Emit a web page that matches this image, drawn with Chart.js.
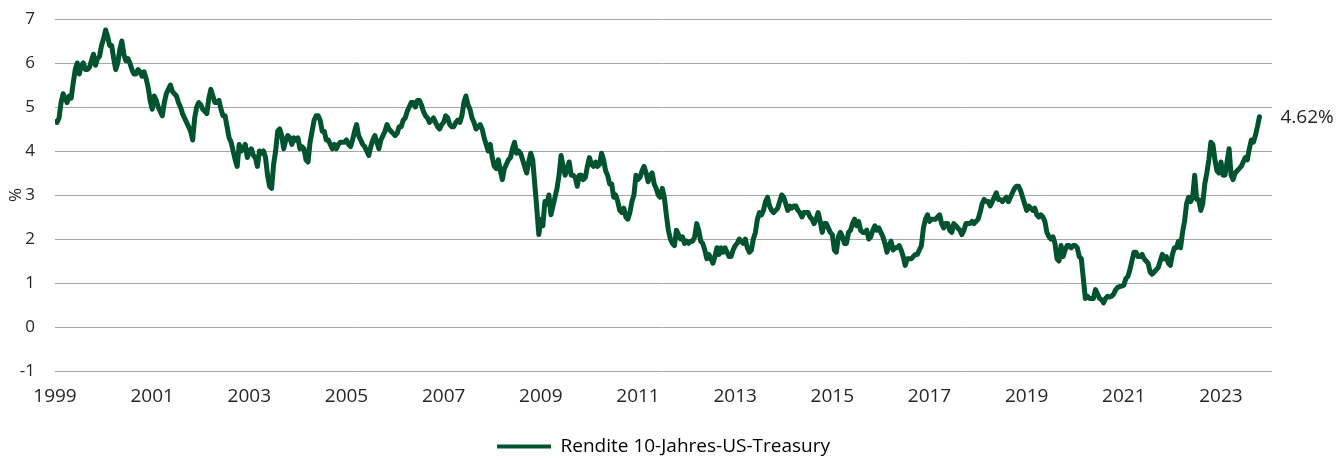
<!DOCTYPE html>
<html lang="de">
<head>
<meta charset="utf-8">
<title>Rendite 10-Jahres-US-Treasury</title>
<script src="https://cdn.jsdelivr.net/npm/chart.js@4.4.0/dist/chart.umd.min.js"></script>
<style>
  html, body { margin: 0; padding: 0; background: #fff; }
  #wrap { width: 1344px; height: 460px; }
</style>
</head>
<body>
<div id="wrap"><canvas id="chart" width="1344" height="460"></canvas></div>
<script>
// two readings per month (around the 1st and the 15th), Jan 1999 .. mid-Oct 2023
const firstYear = 1999;
const pointsPerYear = 24;
const yields = [
  4.67, 4.65, 4.75, 5.10, 5.30, 5.20, 5.10, 5.25, 5.20, 5.55, 5.85, 6.00, 5.75, 5.95, 6.00, 5.85, 5.85, 5.90, 6.05, 6.20, 5.95, 6.10, 6.15, 6.40, // 1999
  6.55, 6.75, 6.60, 6.40, 6.40, 6.10, 5.85, 6.00, 6.30, 6.50, 6.20, 6.05, 6.10, 6.00, 5.85, 5.75, 5.75, 5.85, 5.80, 5.70, 5.80, 5.65, 5.45, 5.15, // 2000
  4.95, 5.25, 5.15, 5.00, 4.90, 4.80, 5.10, 5.30, 5.40, 5.50, 5.35, 5.30, 5.25, 5.10, 5.00, 4.85, 4.75, 4.65, 4.55, 4.45, 4.25, 4.75, 5.00, 5.10, // 2001
  5.05, 4.95, 4.90, 4.85, 5.20, 5.40, 5.25, 5.10, 5.10, 5.15, 4.95, 4.80, 4.80, 4.55, 4.30, 4.20, 4.00, 3.80, 3.65, 4.15, 4.00, 4.05, 4.15, 3.85, // 2002
  4.00, 4.05, 3.90, 3.85, 3.65, 4.00, 3.95, 4.00, 3.85, 3.45, 3.20, 3.15, 3.70, 4.00, 4.45, 4.50, 4.35, 4.05, 4.25, 4.35, 4.30, 4.15, 4.30, 4.25, // 2003
  4.30, 4.05, 4.10, 4.05, 3.80, 3.75, 4.20, 4.45, 4.70, 4.80, 4.80, 4.70, 4.45, 4.45, 4.25, 4.25, 4.15, 4.05, 4.15, 4.05, 4.15, 4.20, 4.20, 4.20, // 2004
  4.25, 4.15, 4.10, 4.25, 4.45, 4.60, 4.35, 4.25, 4.15, 4.10, 4.00, 3.90, 4.10, 4.25, 4.35, 4.20, 4.05, 4.25, 4.35, 4.45, 4.60, 4.50, 4.45, 4.40, // 2005
  4.35, 4.40, 4.55, 4.55, 4.70, 4.75, 4.90, 5.00, 5.10, 5.10, 5.00, 5.15, 5.15, 5.05, 4.90, 4.80, 4.75, 4.65, 4.70, 4.75, 4.65, 4.55, 4.50, 4.60, // 2006
  4.65, 4.80, 4.75, 4.60, 4.55, 4.55, 4.65, 4.70, 4.65, 4.80, 5.10, 5.25, 5.05, 4.95, 4.75, 4.65, 4.50, 4.55, 4.60, 4.50, 4.30, 4.15, 4.00, 4.15, // 2007
  3.85, 3.65, 3.60, 3.80, 3.55, 3.35, 3.60, 3.70, 3.80, 3.85, 4.05, 4.20, 3.95, 4.00, 3.95, 3.80, 3.65, 3.50, 3.75, 3.95, 3.80, 3.25, 2.70, 2.10, // 2008
  2.45, 2.30, 2.85, 2.80, 3.00, 2.55, 2.75, 2.95, 3.15, 3.45, 3.90, 3.65, 3.45, 3.60, 3.75, 3.45, 3.45, 3.40, 3.20, 3.45, 3.45, 3.35, 3.40, 3.65, // 2009
  3.85, 3.70, 3.65, 3.75, 3.65, 3.70, 3.95, 3.80, 3.55, 3.45, 3.25, 3.25, 2.95, 3.00, 2.85, 2.65, 2.60, 2.70, 2.50, 2.45, 2.60, 2.85, 3.00, 3.45, // 2010
  3.35, 3.40, 3.55, 3.65, 3.50, 3.30, 3.45, 3.50, 3.25, 3.15, 3.00, 2.95, 3.15, 2.95, 2.55, 2.20, 2.00, 1.90, 1.85, 2.20, 2.10, 2.00, 2.05, 1.90, // 2011
  1.95, 1.90, 1.95, 1.95, 2.05, 2.35, 2.20, 1.95, 1.90, 1.75, 1.55, 1.65, 1.55, 1.45, 1.60, 1.80, 1.65, 1.80, 1.70, 1.80, 1.70, 1.60, 1.60, 1.75, // 2012
  1.85, 1.90, 2.00, 1.95, 1.90, 2.00, 1.80, 1.70, 1.75, 2.00, 2.15, 2.45, 2.60, 2.55, 2.65, 2.85, 2.95, 2.75, 2.65, 2.60, 2.65, 2.70, 2.85, 3.00, // 2013
  2.95, 2.80, 2.65, 2.75, 2.70, 2.75, 2.75, 2.65, 2.60, 2.50, 2.60, 2.60, 2.60, 2.50, 2.45, 2.35, 2.45, 2.60, 2.40, 2.15, 2.35, 2.35, 2.25, 2.15, // 2014
  2.10, 1.75, 1.70, 2.05, 2.15, 2.05, 1.90, 1.90, 2.15, 2.20, 2.35, 2.45, 2.30, 2.40, 2.20, 2.15, 2.15, 2.20, 2.00, 2.05, 2.20, 2.30, 2.20, 2.25, // 2015
  2.15, 2.05, 1.90, 1.70, 1.85, 1.95, 1.75, 1.80, 1.80, 1.85, 1.75, 1.60, 1.40, 1.55, 1.55, 1.55, 1.60, 1.65, 1.65, 1.75, 1.85, 2.25, 2.45, 2.55, // 2016
  2.40, 2.45, 2.45, 2.45, 2.50, 2.55, 2.35, 2.25, 2.35, 2.35, 2.20, 2.15, 2.35, 2.30, 2.25, 2.20, 2.10, 2.20, 2.35, 2.35, 2.35, 2.40, 2.35, 2.40, // 2017
  2.45, 2.60, 2.80, 2.90, 2.85, 2.85, 2.75, 2.85, 2.95, 3.05, 2.90, 2.90, 2.85, 2.90, 2.95, 2.85, 2.95, 3.05, 3.15, 3.20, 3.20, 3.10, 2.95, 2.80, // 2018
  2.65, 2.75, 2.70, 2.65, 2.70, 2.55, 2.50, 2.55, 2.50, 2.40, 2.15, 2.05, 2.00, 2.05, 1.90, 1.55, 1.50, 1.85, 1.60, 1.75, 1.85, 1.85, 1.80, 1.85, // 2019
  1.85, 1.80, 1.60, 1.55, 1.10, 0.65, 0.70, 0.65, 0.65, 0.65, 0.85, 0.75, 0.65, 0.62, 0.55, 0.65, 0.70, 0.68, 0.70, 0.75, 0.85, 0.90, 0.92, 0.93, // 2020
  0.95, 1.10, 1.15, 1.30, 1.50, 1.70, 1.70, 1.60, 1.60, 1.65, 1.55, 1.50, 1.45, 1.25, 1.20, 1.25, 1.30, 1.35, 1.50, 1.65, 1.55, 1.60, 1.45, 1.40, // 2021
  1.65, 1.80, 1.80, 1.95, 1.80, 2.15, 2.40, 2.80, 2.95, 2.85, 2.95, 3.45, 2.90, 2.90, 2.65, 2.80, 3.25, 3.50, 3.80, 4.20, 4.15, 3.80, 3.55, 3.50, // 2022
  3.75, 3.45, 3.45, 3.75, 4.05, 3.45, 3.35, 3.50, 3.55, 3.60, 3.65, 3.75, 3.85, 3.80, 4.05, 4.25, 4.20, 4.35, 4.55, 4.78                          // 2023
];
const tickYears = [1999, 2001, 2003, 2005, 2007, 2009, 2011, 2013, 2015, 2017, 2019, 2021, 2023];
const seriesLabel = "Rendite 10-Jahres-US-Treasury";
const lastLabel = "4.62%";
const axisTitle = "%";

const green = "#00532f";
const textColor = "#262626";
const fontFamily = "'Open Sans', 'Noto Sans', sans-serif";

const points = yields.map((v, i) => ({ x: firstYear + i / pointsPerYear, y: v }));

// value label next to the last point of the line
const endLabel = {
  id: "endLabel",
  afterDatasetsDraw(chart) {
    const meta = chart.getDatasetMeta(0);
    const last = meta.data[meta.data.length - 1];
    const ctx = chart.ctx;
    ctx.save();
    ctx.font = "19px " + fontFamily;
    ctx.fillStyle = textColor;
    ctx.textBaseline = "middle";
    ctx.textAlign = "left";
    ctx.fillText(lastLabel, last.x + 21, last.y + 1);
    ctx.restore();
  },
};

new Chart(document.getElementById("chart"), {
  type: "line",
  data: {
    datasets: [
      {
        label: seriesLabel,
        data: points,
        borderColor: green,
        backgroundColor: green,
        borderWidth: 5,
        pointRadius: 0,
        tension: 0,
        borderJoinStyle: "round",
        borderCapStyle: "round",
      },
    ],
  },
  options: {
    responsive: false,
    animation: false,
    devicePixelRatio: 1,
    layout: { padding: { top: 19, right: 72, left: 0, bottom: -6 } },
    plugins: {
      tooltip: { enabled: false },
      legend: {
        position: "bottom",
        fullSize: false,
        labels: {
          color: textColor,
          font: { family: fontFamily, size: 19 },
          boxWidth: 54,
          boxHeight: 4,
          padding: 2,
          generateLabels: () => [
            {
              text: seriesLabel,
              fillStyle: green,
              strokeStyle: green,
              lineWidth: 0,
              hidden: false,
              datasetIndex: 0,
            },
          ],
        },
      },
    },
    scales: {
      x: {
        type: "linear",
        min: 1999,
        max: 2024.05,
        grid: { display: false, drawTicks: false },
        border: { display: false },
        afterBuildTicks: (scale) => {
          scale.ticks = tickYears.map((y) => ({ value: y }));
        },
        afterFit: (scale) => {
          scale.height = 64;
        },
        ticks: {
          autoSkip: false,
          maxRotation: 0,
          padding: 14,
          color: textColor,
          font: { family: fontFamily, size: 19 },
          callback: (v) => String(v),
        },
      },
      y: {
        min: -1,
        max: 7,
        afterFit: (scale) => {
          scale.width = 55;
          scale.paddingTop = 0;
          scale.paddingBottom = 0;
        },
        grid: { color: "#a6a6a6", lineWidth: 1, drawTicks: false },
        border: { display: false },
        title: {
          display: true,
          text: axisTitle,
          color: textColor,
          font: { family: fontFamily, size: 17 },
          padding: { top: 6, bottom: 0 },
        },
        ticks: {
          stepSize: 1,
          padding: 20,
          color: textColor,
          font: { family: fontFamily, size: 17 },
        },
      },
    },
  },
  plugins: [endLabel],
});
</script>
</body>
</html>
